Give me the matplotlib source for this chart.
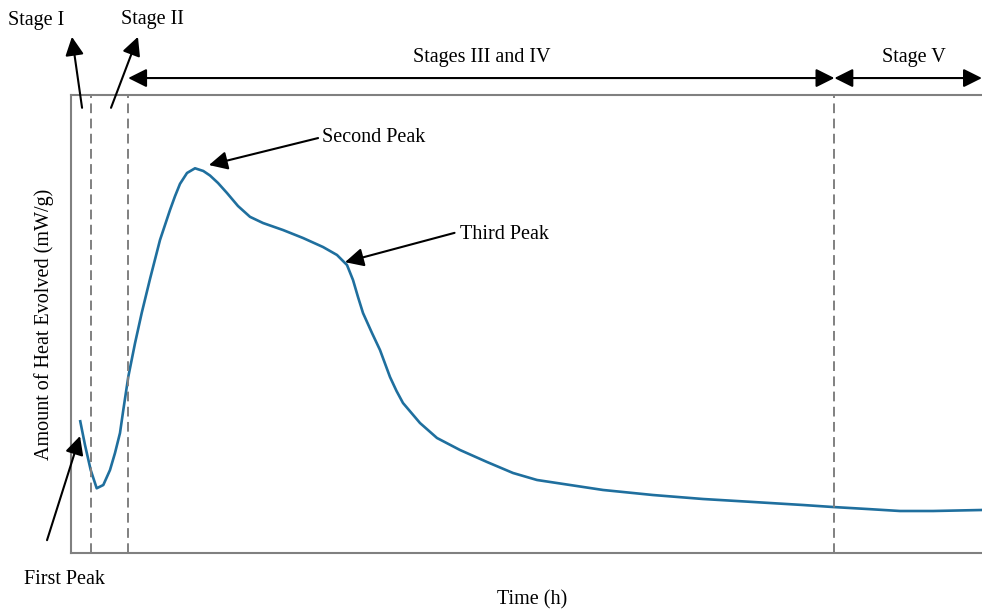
import matplotlib
matplotlib.use("Agg")
import matplotlib.pyplot as plt

# Heat-flow curve of cement hydration (arbitrary units)
time_h = [0.488, 0.759, 1.068, 1.394, 1.752, 2.115, 2.386, 2.657, 2.836, 3.107,
          3.471, 3.834, 4.284, 4.826, 5.369, 5.640, 5.911, 6.291, 6.725, 7.175,
          7.538, 7.972, 8.460, 9.056, 9.707, 10.412, 11.497, 12.581, 13.666,
          14.425, 14.967, 15.293, 15.564, 15.835, 16.323, 16.757, 17.299,
          17.650, 18.004, 18.926, 19.848, 21.095, 22.560, 23.970, 25.271,
          27.061, 28.851, 31.562, 34.273, 36.985, 39.696, 41.323, 43.167,
          44.957, 46.746, 49.403, 50.0]
heat = [29.04, 23.58, 18.12, 14.13, 14.85, 18.12, 21.83, 26.20, 31.22, 38.49,
        45.79, 52.40, 59.83, 68.34, 74.89, 77.90, 80.60, 82.97, 84.00, 83.41,
        82.42, 80.79, 78.60, 75.76, 73.40, 72.05, 70.52, 68.78, 66.81,
        65.07, 62.88, 59.61, 55.90, 52.40, 48.03, 44.32, 38.43,
        35.40, 32.75, 28.38, 25.11, 22.49, 19.87, 17.47, 15.94,
        14.85, 13.76, 12.66, 11.79, 11.14, 10.48, 10.04, 9.61,
        9.17, 9.17, 9.39, 9.39]

stage_bounds = [1.1, 3.1, 41.4]
peak_labels = ["First Peak", "Second Peak", "Third Peak"]

plt.rcParams["font.family"] = ["Liberation Serif", "DejaVu Serif"]

fig = plt.figure(figsize=(9.82, 6.10), dpi=100)
ax = fig.add_axes([71 / 982, 57 / 610, 922 / 982, 458 / 610])
ax.set_xlim(0, 50)
ax.set_ylim(0, 100)

ax.plot(time_h, heat, color="#1f6f9e", lw=1.9, solid_joinstyle="round",
        solid_capstyle="butt")

for xb in stage_bounds:
    ax.axvline(xb, color="#808080", lw=1.4, ls=(0, (5, 2.8)))

for side in ["left", "top", "bottom"]:
    ax.spines[side].set_color("#808080")
    ax.spines[side].set_linewidth(1.5)
ax.spines["right"].set_visible(False)
ax.set_xticks([])
ax.set_yticks([])

fs = 14.5
ax.set_xlabel("Time (h)", fontsize=fs, labelpad=27)
ax.set_ylabel("Amount of Heat Evolved (mW/g)", fontsize=fs, labelpad=12)

arrow = dict(arrowstyle="-|>", mutation_scale=28, lw=1.5, color="black",
             shrinkA=0, shrinkB=0)
darrow = dict(arrowstyle="<|-|>", mutation_scale=28, lw=1.5, color="black",
              shrinkA=0, shrinkB=0)

# Stage I / Stage II pointers
ax.annotate("", xy=(0.05, 112.7), xytext=(0.6, 97.2), arrowprops=arrow,
            annotation_clip=False)
ax.text(-1.9, 116.3, "Stage I", ha="center", va="center", fontsize=fs)
ax.annotate("", xy=(3.63, 112.7), xytext=(2.17, 97.2), arrowprops=arrow,
            annotation_clip=False)
ax.text(4.39, 116.5, "Stage II", ha="center", va="center", fontsize=fs)

# Stage spans
ax.annotate("", xy=(stage_bounds[1], 103.7), xytext=(stage_bounds[2], 103.7),
            arrowprops=darrow, annotation_clip=False)
ax.text(22.3, 108.1, "Stages III and IV", ha="center", va="center", fontsize=fs)
ax.annotate("", xy=(stage_bounds[2], 103.7), xytext=(49.4, 103.7),
            arrowprops=darrow, annotation_clip=False)
ax.text(45.7, 108.1, "Stage V", ha="center", va="center", fontsize=fs)

# Peak pointers
ax.annotate("", xy=(time_h[0], heat[0] - 3.5), xytext=(-1.3, 2.8),
            arrowprops=arrow, annotation_clip=False)
ax.text(-0.33, -5.8, peak_labels[0], ha="center", va="center", fontsize=fs)
ax.annotate("", xy=(7.48, 84.7), xytext=(13.4, 90.6), arrowprops=arrow,
            annotation_clip=False)
ax.text(13.6, 90.8, peak_labels[1], ha="left", va="center", fontsize=fs)
ax.annotate("", xy=(14.86, 63.5), xytext=(20.8, 69.9), arrowprops=arrow,
            annotation_clip=False)
ax.text(21.1, 69.6, peak_labels[2], ha="left", va="center", fontsize=fs)

fig.savefig("out.png", dpi=100)
